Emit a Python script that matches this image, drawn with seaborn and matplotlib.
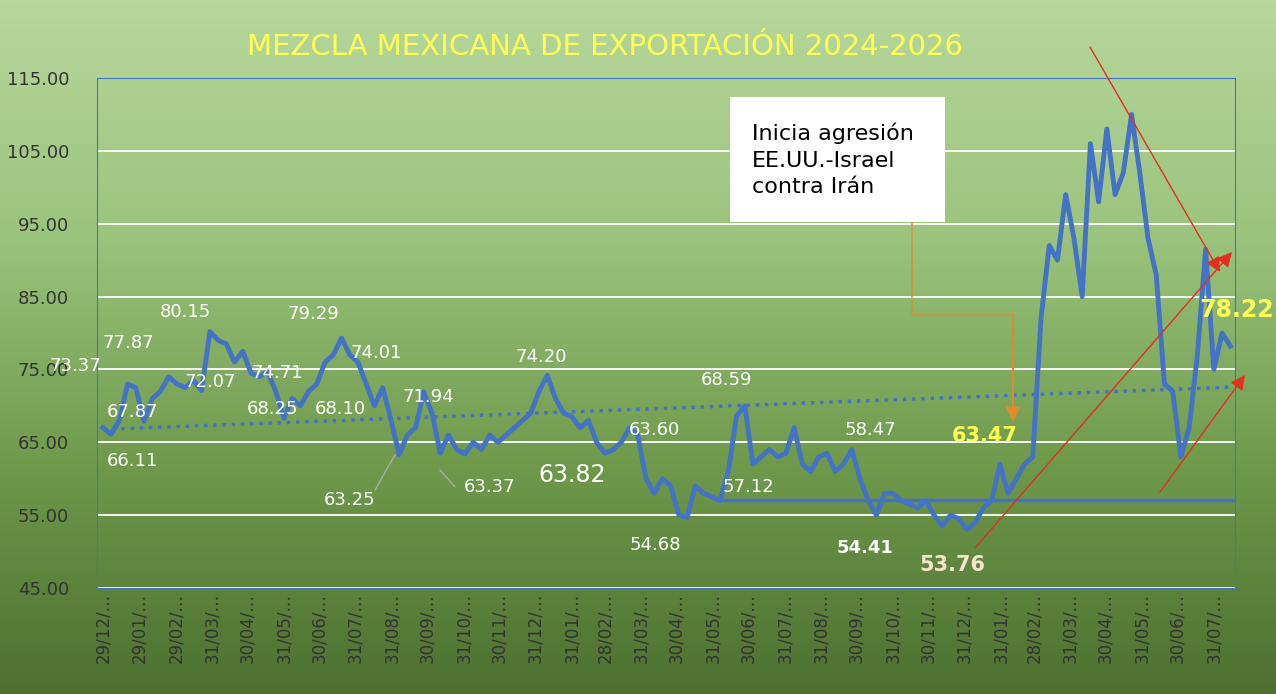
import numpy as np
import pandas as pd
import matplotlib.pyplot as plt
import seaborn as sns
from matplotlib.colors import LinearSegmentedColormap

W, H = 1276, 694

# weekly prices, starting 29/12/2023
precios = [67, 66.1, 68, 73, 72.5, 67.9, 71, 72, 74, 73,
           72.5, 73.5, 72.1, 80.2, 79, 78.5, 76, 77.5, 74.5, 74,
           74.7, 72, 68.3, 71, 70, 72, 73, 76, 77, 79.3,
           77, 76, 73, 70, 72.5, 68.1, 63.3, 66, 67, 71.9,
           69, 63.5, 66, 64, 63.4, 65, 64, 66, 65, 66,
           67, 68, 69, 72, 74.2, 71, 69, 68.5, 67, 68,
           65, 63.5, 64, 65, 67, 66, 60, 58, 60, 59,
           55, 54.7, 59, 58, 57.5, 57, 61, 68.6, 70, 62,
           63, 64, 63, 63.5, 67, 62, 61, 63, 63.5, 61,
           62, 64, 60, 57, 55, 58, 58, 57, 56.5, 56,
           57, 55, 53.5, 55, 54.5, 53, 54, 56, 57, 62,
           58, 60, 62, 63, 82, 92, 90, 99, 93, 85,
           106, 98, 108, 99, 102, 110, 102, 93, 88, 73,
           72, 63, 67, 77, 91.5, 75, 80, 78.2]
fechas = pd.date_range('2023-12-29', periods=len(precios), freq='7D')
df = pd.DataFrame({'fecha': fechas, 'precio': precios})

ticks = ['2023-12-29', '2024-01-29', '2024-02-29', '2024-03-31', '2024-04-30', '2024-05-31',
         '2024-06-30', '2024-07-31', '2024-08-31', '2024-09-30', '2024-10-31', '2024-11-30',
         '2024-12-31', '2025-01-31', '2025-02-28', '2025-03-31', '2025-04-30', '2025-05-31',
         '2025-06-30', '2025-07-31', '2025-08-31', '2025-09-30', '2025-10-31', '2025-11-30',
         '2025-12-31', '2026-01-31', '2026-02-28', '2026-03-31', '2026-04-30', '2026-05-31',
         '2026-06-30', '2026-07-31']
ticks = pd.to_datetime(ticks)

fig = plt.figure(figsize=(W / 100, H / 100), dpi=100)
bg = fig.add_axes([0, 0, 1, 1], zorder=-5)
cmap = LinearSegmentedColormap.from_list('g', ['#b7d79c', '#9cc47e', '#6f9a4c', '#4d7030'])
bg.imshow(np.linspace(0, 1, 200).reshape(-1, 1), aspect='auto', cmap=cmap, extent=[0, 1, 0, 1])
bg.axis('off')

ax = fig.add_axes([97 / W, 1 - 588 / H, (1235 - 97) / W, (588 - 78) / H])
ax.set_facecolor('none')
sns.lineplot(data=df, x='fecha', y='precio', ax=ax, color='#4472c4', linewidth=3.5)

# linear trend
xn = np.arange(len(df))
p = np.polyfit(xn, df['precio'], 1)
ax.plot(df['fecha'], np.polyval(p, xn), ':', color='#4472c4', linewidth=2.5)
# support level
ax.plot([pd.Timestamp('2025-06-08'), pd.Timestamp('2026-08-18')], [57.12, 57.12], color='#4472c4', linewidth=2.5)

ax.set_xlim(pd.Timestamp('2023-12-24'), pd.Timestamp('2026-08-18'))
ax.set_ylim(45, 115)
ax.set_yticks(np.arange(45, 116, 10))
ax.set_yticklabels([f'{v:.2f}' for v in range(45, 116, 10)], fontsize=13, color='#333333')
ax.set_xticks(ticks)
ax.set_xticklabels([d.strftime('%d/%m/…') for d in ticks], rotation=90, fontsize=12, color='#333333')
ax.tick_params(axis='y', pad=20)
ax.grid(axis='y', color='white', linewidth=1.3)
ax.set_axisbelow(True)
ax.set_xlabel('')
ax.set_ylabel('')
for s in ax.spines.values():
    s.set_color('#4472c4')
ax.tick_params(length=0)

def t(x, y, s, **kw):
    opts = dict(color='white', fontsize=13, ha='center', va='center')
    opts.update(kw)
    fig.text(x / W, 1 - y / H, s, **opts)

t(605, 47, 'MEZCLA MEXICANA DE EXPORTACIÓN 2024-2026', color='#ffff55', fontsize=21)
for x, y, s in [(75, 366, '73.37'), (128, 343, '77.87'), (185, 312, '80.15'), (210, 382, '72.07'),
                (132, 412, '67.87'), (132, 461, '66.11'), (277, 373, '74.71'), (313, 314, '79.29'),
                (272, 409, '68.25'), (340, 409, '68.10'), (376, 353, '74.01'), (428, 397, '71.94'),
                (350, 500, '63.25'), (490, 487, '63.37'), (541, 357, '74.20'), (727, 380, '68.59'),
                (654, 430, '63.60'), (655, 545, '54.68'), (748, 487, '57.12'), (870, 430, '58.47')]:
    t(x, y, s)
t(572, 475, '63.82', fontsize=17)
t(865, 548, '54.41', fontweight='bold')
t(952, 565, '53.76', fontsize=15, fontweight='bold', color='#f8e4cc')
t(985, 436, '63.47', fontsize=15, fontweight='bold', color='#ffff55')
t(1237, 310, '78.22', fontsize=17, fontweight='bold', color='#ffff55')

# callout box
fig.patches.append(plt.Rectangle((730 / W, 1 - 222 / H), 215 / W, 125 / H, transform=fig.transFigure,
                                 facecolor='white', edgecolor='none', zorder=3))
t(752, 160, 'Inicia agresión\nEE.UU.-Israel\ncontra Irán', color='black', fontsize=16, ha='left',
  linespacing=1.4, zorder=4)

def ln(x0, y0, x1, y1, color, arrow=False, lw=1):
    ax.annotate('', xy=(x1, H - y1), xytext=(x0, H - y0), xycoords='figure pixels',
                textcoords='figure pixels',
                arrowprops=dict(arrowstyle='-|>' if arrow else '-', color=color, lw=lw,
                                mutation_scale=22, shrinkA=0, shrinkB=0))

ln(912, 205, 912, 315, '#d98a3a')
ln(912, 315, 1013, 315, '#d98a3a')
ln(1013, 315, 1013, 422, '#e08a30', arrow=True, lw=1.5)
ln(375, 490, 395, 455, '#aaaaaa')
ln(455, 487, 440, 470, '#aaaaaa')
ln(1090, 47, 1220, 272, '#e03020', arrow=True)
ln(975, 548, 1232, 252, '#e03020', arrow=True)
ln(1160, 492, 1245, 375, '#e03020', arrow=True)

fig.savefig('out.png', dpi=100)
